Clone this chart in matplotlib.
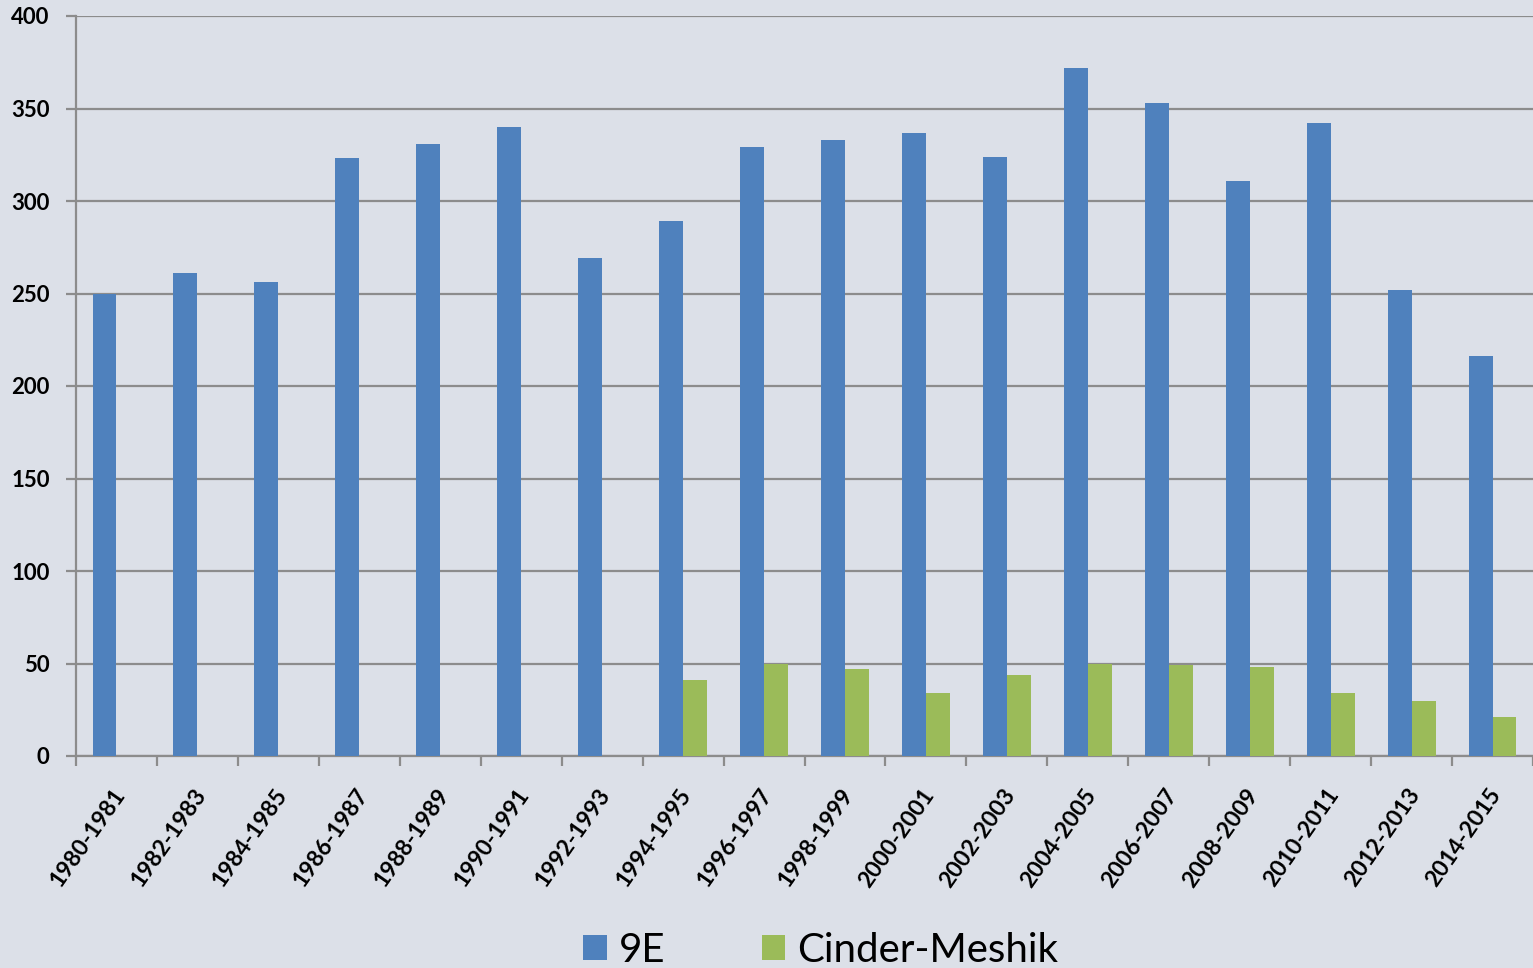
import matplotlib
matplotlib.use("Agg")
import matplotlib.pyplot as plt
import matplotlib.transforms as mtrans
import numpy as np

categories = ["1980-1981", "1982-1983", "1984-1985", "1986-1987", "1988-1989",
              "1990-1991", "1992-1993", "1994-1995", "1996-1997", "1998-1999",
              "2000-2001", "2002-2003", "2004-2005", "2006-2007", "2008-2009",
              "2010-2011", "2012-2013", "2014-2015"]
series_9e = [250, 261, 256, 323, 331, 340, 269, 289, 329, 333, 337, 324, 372, 353, 311, 342, 252, 216]
series_cm = [0, 0, 0, 0, 0, 0, 0, 41, 50, 47, 34, 44, 50, 49, 48, 34, 30, 21]
yticks = [0, 50, 100, 150, 200, 250, 300, 350, 400]

BG = "#dce0e8"
BLUE = "#4f81bd"
GREEN = "#9bbb59"
GRID = "#8c8c8c"
FONT = "Lato"

fig = plt.figure(figsize=(15.33, 9.68), dpi=100, facecolor=BG)
ax = fig.add_axes([76 / 1533, 1 - 756 / 968, 1 - 76 / 1533, (756 - 16) / 968])
ax.set_facecolor(BG)

x = np.arange(len(categories))
w = 0.296
ax.bar(x - w / 2, series_9e, w, color=BLUE, label="9E", zorder=3)
ax.bar(x + w / 2, series_cm, w, color=GREEN, label="Cinder-Meshik", zorder=3)

ax.set_xlim(-0.5, len(categories) - 0.5)
ax.set_ylim(0, 400)
ax.set_yticks(yticks)
ax.yaxis.grid(True, color=GRID, linewidth=1.6, zorder=1)
ax.set_axisbelow(True)

for s in ["top", "right"]:
    ax.spines[s].set_visible(False)
for s in ["left", "bottom"]:
    ax.spines[s].set_color(GRID)
    ax.spines[s].set_linewidth(1.6)

ax.tick_params(axis="y", length=7, width=1.6, color=GRID, pad=12)
ax.set_xticks(x)
ax.set_xticks(np.arange(len(categories) + 1) - 0.5, minor=True)
ax.tick_params(axis="x", which="major", length=0, pad=25)
ax.tick_params(axis="x", which="minor", length=7, width=1.6, color=GRID)

ax.set_xticklabels(categories, rotation=55, ha="right", va="center",
                   rotation_mode="anchor", fontsize=16.5, fontweight="bold", family=FONT)
for lbl in ax.get_yticklabels():
    lbl.set_fontsize(16)
    lbl.set_fontweight("bold")
    lbl.set_family(FONT)

offset = mtrans.ScaledTranslation(4 / 100, 0, fig.dpi_scale_trans)
for lbl in ax.get_xticklabels():
    lbl.set_transform(lbl.get_transform() + offset)

fig.legend(loc="center", bbox_to_anchor=(821 / 1533, 1 - 950 / 968), ncol=2,
           frameon=False, prop={"family": FONT, "size": 29},
           handlelength=0.58, handleheight=0.58, handletextpad=0.3, columnspacing=2.4)

fig.savefig("out.png", dpi=100, facecolor=BG)
